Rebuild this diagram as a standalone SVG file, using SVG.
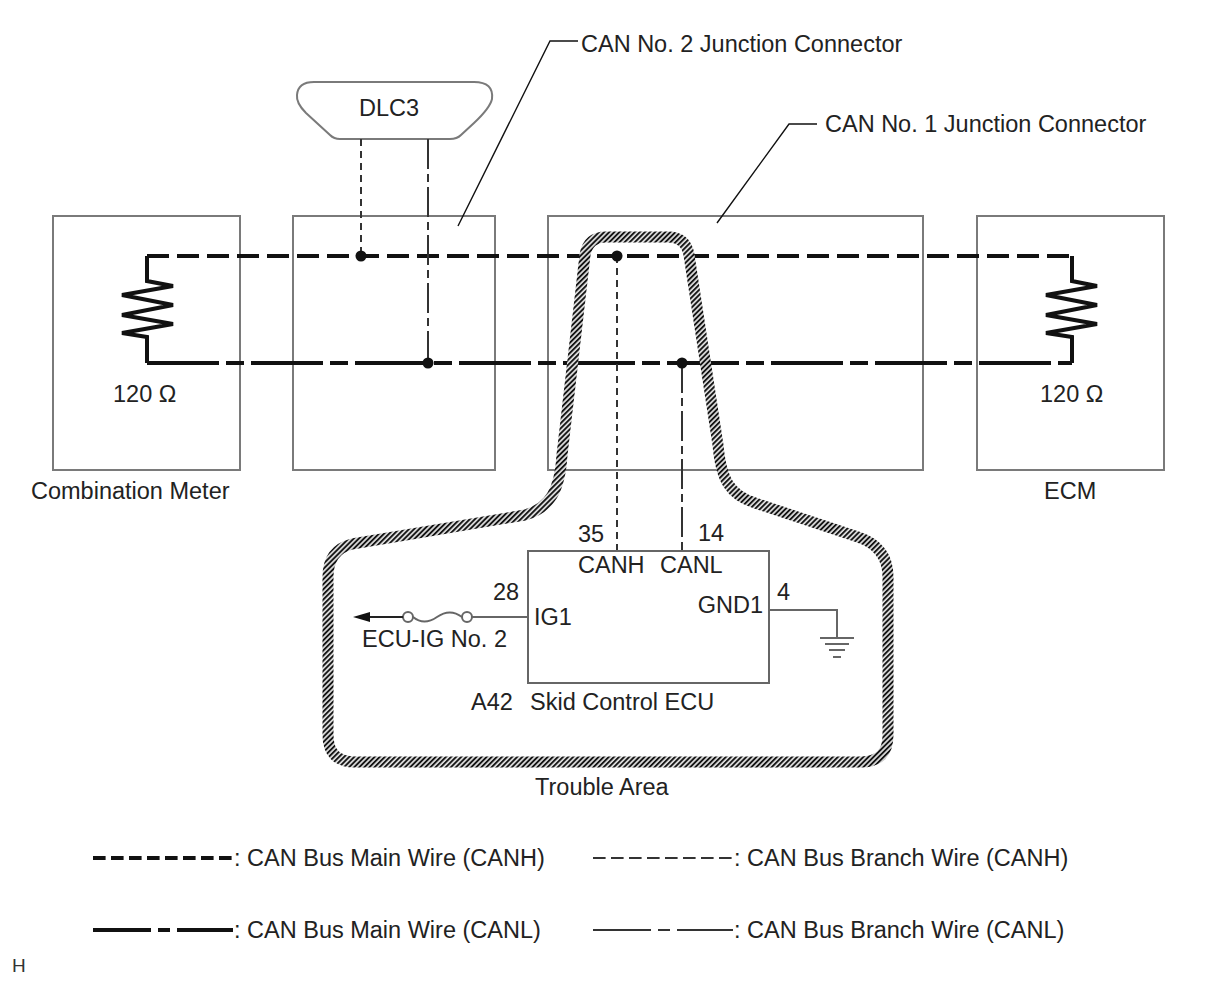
<svg xmlns="http://www.w3.org/2000/svg" width="1208" height="984" viewBox="0 0 1208 984">
<defs>
<style>
.box{fill:none;stroke:#7a7a7a;stroke-width:2}
.t{font-family:"Liberation Sans",Arial,sans-serif;font-size:23.5px;fill:#222}
.mainH{fill:none;stroke:#111;stroke-width:4;stroke-dasharray:22 8}
.mainL{fill:none;stroke:#111;stroke-width:4;stroke-dasharray:72 7 18 7}
.brH{fill:none;stroke:#333;stroke-width:2;stroke-dasharray:7 5}
.brL{fill:none;stroke:#333;stroke-width:2;stroke-dasharray:30 5 8 5}
.solid{fill:none;stroke:#111;stroke-width:4}
.thin{fill:none;stroke:#666;stroke-width:2}
.lead{fill:none;stroke:#111;stroke-width:1.4}
.dot{fill:#111}
</style>
<pattern id="hatch" patternUnits="userSpaceOnUse" width="3.6" height="3.6" patternTransform="rotate(45)">
<rect width="3.6" height="3.6" fill="#e0e0e0"/>
<rect width="1.9" height="3.6" fill="#151515"/>
</pattern>
</defs>
<rect width="1208" height="984" fill="#fff"/>

<g id="combination-meter">
<rect class="box" x="53" y="216" width="187" height="254"/>
<path class="solid" d="M147 256 V281 L173 286 L122 295 L173 305 L122 315 L173 324 L122 333 L147 337 V363"/>
<text class="t" x="113" y="402">120 Ω</text>
<text class="t" x="31" y="499">Combination Meter</text>
</g>

<g id="can2-jc">
<rect class="box" x="293" y="216" width="202" height="254"/>
<path class="lead" d="M458 226 L550 41 H578"/>
<text class="t" x="581" y="52">CAN No. 2 Junction Connector</text>
</g>

<g id="can1-jc">
<rect class="box" x="548" y="216" width="375" height="254"/>
<path class="lead" d="M717 223 L789 124 H817"/>
<text class="t" x="825" y="132">CAN No. 1 Junction Connector</text>
</g>

<g id="ecm">
<rect class="box" x="977" y="216" width="187" height="254"/>
<path class="solid" d="M1072 256 V281 L1097 286 L1046 295 L1097 305 L1046 315 L1097 324 L1046 333 L1072 337 V363"/>
<text class="t" x="1040" y="402">120 Ω</text>
<text class="t" x="1044" y="499">ECM</text>
</g>

<g id="dlc3">
<path d="M314 82 H474 Q494 82 492 99 Q490 108 474 123 L461 135 Q457 139 450 139 H340 Q334 139 330 135 L306 113 Q296 103 297 95 Q298 82 314 82 Z" fill="#fff" stroke="#7a7a7a" stroke-width="2"/>
<text class="t" x="359" y="116">DLC3</text>
</g>

<g id="connectors">
<path class="mainH" d="M147 256 H1072"/>
<path class="mainL" d="M147 363 H1072"/>
<path class="brH" d="M361 139 V256"/>
<path class="brL" d="M428 139 V363"/>
<path class="brH" d="M617 256 V551"/>
<path class="brL" d="M682 363 V551"/>
<circle class="dot" cx="361" cy="256" r="5.5"/>
<circle class="dot" cx="428" cy="363" r="5.5"/>
<circle class="dot" cx="617" cy="256" r="5.5"/>
<circle class="dot" cx="682" cy="363" r="5.5"/>
</g>

<g id="skid-control-ecu">
<rect x="528" y="551" width="241" height="132" fill="none" stroke="#666" stroke-width="2"/>
<text class="t" x="578" y="542">35</text>
<text class="t" x="698" y="541">14</text>
<text class="t" x="578" y="573">CANH</text>
<text class="t" x="660" y="573">CANL</text>
<text class="t" x="493" y="600">28</text>
<text class="t" x="534" y="625">IG1</text>
<text class="t" x="763" y="613" text-anchor="end">GND1</text>
<text class="t" x="777" y="600">4</text>
<text class="t" x="471" y="710">A42</text>
<text class="t" x="530" y="710">Skid Control ECU</text>
</g>

<g id="ecu-ig-fuse">
<path class="thin" d="M528 617 H472"/>
<circle cx="467" cy="617" r="5" fill="#fff" stroke="#666" stroke-width="2"/>
<path class="thin" d="M413 617 Q424 626 437 617 Q450 608 462 617"/>
<circle cx="408" cy="617" r="5" fill="#fff" stroke="#666" stroke-width="2"/>
<path d="M403 617 H366" fill="none" stroke="#222" stroke-width="2"/>
<polygon points="353,617 370,612 370,622" fill="#111"/>
<text class="t" x="362" y="647">ECU-IG No. 2</text>
</g>

<g id="ground">
<path class="thin" d="M769 610 H837 V638"/>
<path d="M820 638 H854 M825 644 H849 M829 650 H845 M833 657 H841" fill="none" stroke="#666" stroke-width="2"/>
</g>

<g id="trouble-area">
<path d="M585 255 Q588 237 606 237 L668 237 Q686 237 689 255 L718 445 C721 480 730 495 755 503 L858 537 Q888 547 888 577 L888 735 Q888 762 861 762 L355 762 Q328 762 328 735 L328 577 Q328 550 352 544 L525 515 C550 508 560 490 562 455 Z" fill="none" stroke="url(#hatch)" stroke-width="11" stroke-linejoin="round"/>
<text class="t" x="535" y="795">Trouble Area</text>
</g>

<g id="legend">
<path d="M93 858 H233" fill="none" stroke="#111" stroke-width="4" stroke-dasharray="12.6 5.4"/>
<text class="t" x="234" y="866">: CAN Bus Main Wire (CANH)</text>
<path d="M593 858 H733" fill="none" stroke="#333" stroke-width="2" stroke-dasharray="12.6 5.4"/>
<text class="t" x="734" y="866">: CAN Bus Branch Wire (CANH)</text>
<path d="M93 930 H233" fill="none" stroke="#111" stroke-width="4" stroke-dasharray="58 7 12 7 56"/>
<text class="t" x="234" y="938">: CAN Bus Main Wire (CANL)</text>
<path d="M593 930 H733" fill="none" stroke="#333" stroke-width="2" stroke-dasharray="58 7 12 7 56"/>
<text class="t" x="734" y="938">: CAN Bus Branch Wire (CANL)</text>
</g>

<text x="12" y="972" font-family="Liberation Sans,Arial,sans-serif" font-size="19" fill="#333">H</text>
</svg>
